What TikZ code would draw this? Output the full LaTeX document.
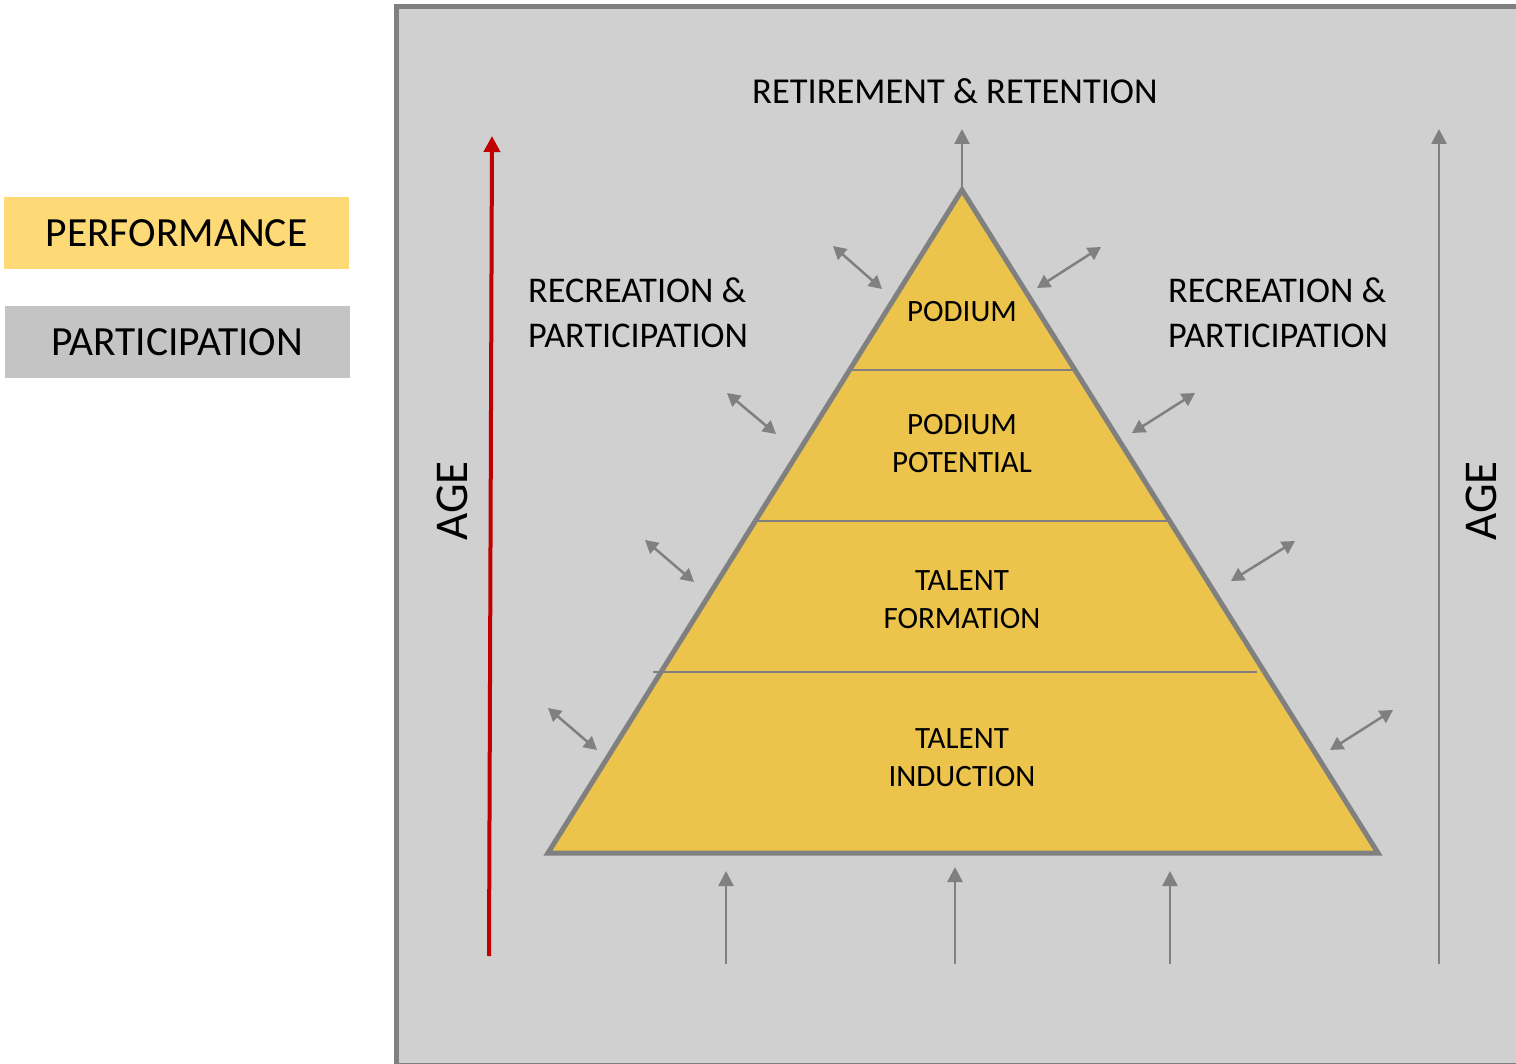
\documentclass[tikz,border=0pt]{standalone}
\usepackage{fontspec}
\setmainfont{Carlito}
\usetikzlibrary{arrows.meta}
\definecolor{perfY}{RGB}{254,218,118}
\definecolor{partG}{RGB}{196,196,196}
\definecolor{frameBg}{RGB}{208,208,208}
\definecolor{lineG}{RGB}{128,128,128}
\definecolor{pyrY}{RGB}{236,196,76}
\definecolor{ageRed}{RGB}{192,0,0}
\tikzset{
  legendbox/.style={minimum width=345pt, minimum height=72pt, inner sep=0pt, font=\fontsize{41.5}{48}\selectfont},
  tiertext/.style={align=center, font=\fontsize{31}{38}\selectfont, inner sep=0pt},
  sidetext/.style={align=left, font=\fontsize{36.2}{45}\selectfont, inner sep=0pt, anchor=north west},
  flowarrow/.style={draw=lineG, line width=2.5pt, -{Triangle[length=15pt,width=15pt]}},
  swaparrow/.style={draw=lineG, line width=2.5pt, {Triangle[length=13pt,width=14pt]}-{Triangle[length=13pt,width=14pt]}},
  divider/.style={draw=lineG, line width=1.8pt}
}
\begin{document}
\begin{tikzpicture}[x=1pt,y=-1pt]
\useasboundingbox (0,0) rectangle (1516,1064);
\begin{scope}
\clip (0,0) rectangle (1516,1064);
% frame
\draw[fill=frameBg, draw=lineG, line width=5pt] (396,7) rectangle (1540,1065);
\end{scope}
% legend
\node[legendbox, fill=perfY] (perf) at (176.5,233) {PERFORMANCE};
\node[legendbox, fill=partG] (part) at (177,342) {PARTICIPATION};
% pyramid
\coordinate (apex) at (962,190);
\coordinate (bl) at (548,853);
\coordinate (br) at (1378,853);
\fill[pyrY] (apex) -- (bl) -- (br) -- cycle;
\coordinate (d1l) at (852,370); \coordinate (d1r) at (1073,370);
\coordinate (d2l) at (758,521); \coordinate (d2r) at (1168,521);
\coordinate (d3l) at (653,672); \coordinate (d3r) at (1257,672);
\draw[divider] (d1l) -- (d1r);
\draw[divider] (d2l) -- (d2r);
\draw[divider] (d3l) -- (d3r);
\draw[draw=lineG, line width=5pt, line join=miter] (apex) -- (bl) -- (br) -- cycle;
% tier labels
\node[tiertext] (podium) at (962,312) {PODIUM};
\node[tiertext] (potential) at (962,444) {PODIUM\\POTENTIAL};
\node[tiertext] (formation) at (962,600) {TALENT\\FORMATION};
\node[tiertext] (induction) at (962,758) {TALENT\\INDUCTION};
% top label
\node[font=\fontsize{36.5}{42}\selectfont, inner sep=0pt] (retire) at (955,91) {RETIREMENT \& RETENTION};
\node[sidetext] (recL) at (528,278) {RECREATION \&\\PARTICIPATION};
\node[sidetext] (recR) at (1168,278) {RECREATION \&\\PARTICIPATION};
% AGE labels
\node[rotate=90, font=\fontsize{47}{52}\selectfont, inner sep=0pt] (ageL) at (452,501) {AGE};
\node[rotate=90, font=\fontsize{47}{52}\selectfont, inner sep=0pt] (ageR) at (1481,501) {AGE};
% red age arrow
\coordinate (redS) at (489,956);
\coordinate (redE) at (492,136);
\draw[draw=ageRed, line width=4pt, -{Triangle[length=16pt,width=16pt]}] (redS) -- (redE);
% right age arrow
\coordinate (rgS) at (1439,964);
\coordinate (rgE) at (1439,129);
\draw[flowarrow] (rgS) -- (rgE);
% top arrow
\coordinate (topE) at (962,129);
\draw[flowarrow] (apex) -- (topE);
% bottom arrows
\coordinate (b1s) at (726,964); \coordinate (b1e) at (726,871);
\coordinate (b2s) at (955,964); \coordinate (b2e) at (955,867);
\coordinate (b3s) at (1170,964); \coordinate (b3e) at (1170,871);
\draw[flowarrow] (b1s) -- (b1e);
\draw[flowarrow] (b2s) -- (b2e);
\draw[flowarrow] (b3s) -- (b3e);
% left swap arrows
\coordinate (l1a) at (833,246); \coordinate (l1b) at (882,289);
\coordinate (l2a) at (727,393); \coordinate (l2b) at (776,434);
\coordinate (l3a) at (645,540); \coordinate (l3b) at (694,582);
\coordinate (l4a) at (548,708); \coordinate (l4b) at (597,750);
\draw[swaparrow] (l1a) -- (l1b);
\draw[swaparrow] (l2a) -- (l2b);
\draw[swaparrow] (l3a) -- (l3b);
\draw[swaparrow] (l4a) -- (l4b);
% right swap arrows
\coordinate (r1a) at (1037,288); \coordinate (r1b) at (1101,247);
\coordinate (r2a) at (1132,433); \coordinate (r2b) at (1195,393);
\coordinate (r3a) at (1231,581); \coordinate (r3b) at (1295,541);
\coordinate (r4a) at (1330,750); \coordinate (r4b) at (1393,710);
\draw[swaparrow] (r1a) -- (r1b);
\draw[swaparrow] (r2a) -- (r2b);
\draw[swaparrow] (r3a) -- (r3b);
\draw[swaparrow] (r4a) -- (r4b);
\end{tikzpicture}
\end{document}
